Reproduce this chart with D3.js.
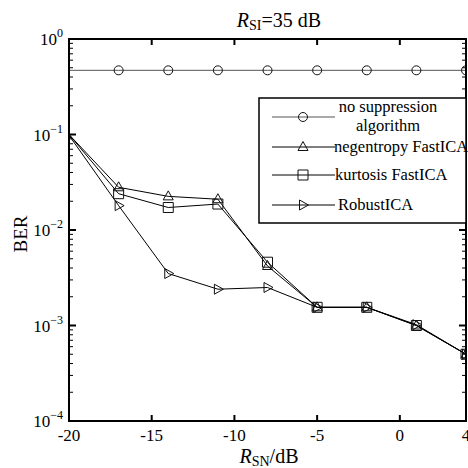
<!DOCTYPE html>
<html>
<head>
<meta charset="utf-8">
<script src="https://cdn.jsdelivr.net/npm/d3@7"></script>
<style>
  body { margin: 0; background: #fff; }
  svg { display: block; font-family: "Liberation Serif", "Times New Roman", serif; }
</style>
</head>
<body>
<svg id="chart"></svg>
<script>
// data
const snr = [-20, -17, -14, -11, -8, -5, -2, 1, 4];
const noSuppression = [0.47, 0.47, 0.47, 0.47, 0.47, 0.47, 0.47, 0.47, 0.47];
const negentropyFastICA = [0.1, 0.028, 0.0225, 0.021, 0.0042, 0.00155, 0.00155, 0.001, 0.0005];
const kurtosisFastICA = [0.1, 0.024, 0.0172, 0.0187, 0.0046, 0.00155, 0.00155, 0.001, 0.0005];
const robustICA = [0.098, 0.018, 0.0035, 0.0024, 0.0025, 0.00155, 0.00155, 0.00102, 0.0005];
const xTicks = [-20, -15, -10, -5, 0, 4];
const yTicks = [1, 0.1, 0.01, 0.001, 0.0001];
const yTickExp = ["0", "\u22121", "\u22122", "\u22123", "\u22124"];

const series = [
    { name: ["no suppression", "algorithm"], values: noSuppression, marker: "circle", color: "#555" },
    { name: ["negentropy FastICA"], values: negentropyFastICA, marker: "triangle", color: "#000" },
    { name: ["kurtosis FastICA"], values: kurtosisFastICA, marker: "square", color: "#000" },
    { name: ["RobustICA"], values: robustICA, marker: "right", color: "#000" }
];

const W = 468, H = 468;
const margin = { left: 69, right: 2, top: 39, bottom: 47 };

const svg = d3.select("#chart").attr("width", W).attr("height", H);

const x = d3.scaleLinear().domain([-20, 4]).range([margin.left, W - margin.right]);
const y = d3.scaleLog().domain([1e-4, 1]).range([H - margin.bottom, margin.top]);

svg.append("clipPath").attr("id", "plotClip")
    .append("rect")
    .attr("x", margin.left).attr("y", margin.top)
    .attr("width", x.range()[1] - margin.left)
    .attr("height", y.range()[0] - margin.top);

// minor ticks for log axis
const minorTicks = [];
for (let e = -4; e < 0; e++) {
    for (let m = 2; m <= 9; m++) minorTicks.push(m * Math.pow(10, e));
}

const axes = svg.append("g");
const x0 = x.range()[0], x1 = x.range()[1];
const y0 = y.range()[0], y1 = y.range()[1];

// x ticks, inward on top and bottom
xTicks.forEach(t => {
    axes.append("line").attr("x1", x(t)).attr("x2", x(t)).attr("y1", y0).attr("y2", y0 - 6)
        .attr("stroke", "#000").attr("stroke-width", 2);
    axes.append("line").attr("x1", x(t)).attr("x2", x(t)).attr("y1", y1).attr("y2", y1 + 6)
        .attr("stroke", "#000").attr("stroke-width", 2);
    axes.append("text").attr("x", x(t)).attr("y", y0 + 20)
        .attr("text-anchor", "middle").attr("font-size", 17)
        .text(t);
});

// y ticks
yTicks.forEach((t, i) => {
    axes.append("line").attr("x1", x0).attr("x2", x0 + 7).attr("y1", y(t)).attr("y2", y(t))
        .attr("stroke", "#000").attr("stroke-width", 2);
    axes.append("line").attr("x1", x1).attr("x2", x1 - 7).attr("y1", y(t)).attr("y2", y(t))
        .attr("stroke", "#000").attr("stroke-width", 2);
    const lab = axes.append("text").attr("x", x0 - 6).attr("y", y(t) + 6)
        .attr("text-anchor", "end").attr("font-size", 17);
    lab.append("tspan").text("10");
    lab.append("tspan").attr("dy", -8).attr("font-size", 12).text(yTickExp[i]);
});
minorTicks.forEach(t => {
    axes.append("line").attr("x1", x0).attr("x2", x0 + 4).attr("y1", y(t)).attr("y2", y(t))
        .attr("stroke", "#000").attr("stroke-width", 1);
    axes.append("line").attr("x1", x1).attr("x2", x1 - 4).attr("y1", y(t)).attr("y2", y(t))
        .attr("stroke", "#000").attr("stroke-width", 1);
});

function markerPath(type, cx, cy) {
    const p = d3.path();
    if (type === "circle") {
        p.moveTo(cx + 4.5, cy);
        p.arc(cx, cy, 4.5, 0, 2 * Math.PI);
    } else if (type === "triangle") {
        p.moveTo(cx, cy - 5.5); p.lineTo(cx + 5, cy + 3.5); p.lineTo(cx - 5, cy + 3.5); p.closePath();
    } else if (type === "square") {
        p.rect(cx - 5, cy - 5, 10, 10);
    } else if (type === "right") {
        p.moveTo(cx + 5.5, cy); p.lineTo(cx - 3.5, cy - 5); p.lineTo(cx - 3.5, cy + 5); p.closePath();
    }
    return p.toString();
}

const plot = svg.append("g").attr("clip-path", "url(#plotClip)");
const line = d3.line().x((d, i) => x(snr[i])).y(d => y(d));

series.forEach(s => {
    plot.append("path").attr("d", line(s.values))
        .attr("fill", "none").attr("stroke", s.color).attr("stroke-width", 1);
    // markers start at the second point
    s.values.forEach((v, i) => {
        if (i === 0) return;
        plot.append("path").attr("d", markerPath(s.marker, x(snr[i]), y(v)))
            .attr("fill", "none").attr("stroke", "#111").attr("stroke-width", 1);
    });
});

// frame
svg.append("rect").attr("x", x0).attr("y", y1).attr("width", x1 - x0).attr("height", y0 - y1)
    .attr("fill", "none").attr("stroke", "#000").attr("stroke-width", 2);

// legend
const leg = svg.append("g");
leg.append("rect").attr("x", 259).attr("y", 98).attr("width", 207).attr("height", 125)
    .attr("fill", "#fff").attr("stroke", "#000").attr("stroke-width", 1.5);
const legRows = [117, 147, 175, 205];
const legText = [[[388, 112, "middle"], [388, 131, "middle"]], [[334, 152, "start"]], [[335, 180, "start"]], [[338, 210, "start"]]];
series.forEach((s, i) => {
    const ly = legRows[i];
    leg.append("line").attr("x1", 272).attr("x2", 335).attr("y1", ly).attr("y2", ly)
        .attr("stroke", s.color).attr("stroke-width", 1);
    leg.append("path").attr("d", markerPath(s.marker, 303, ly))
        .attr("fill", "none").attr("stroke", "#111").attr("stroke-width", 1);
    s.name.forEach((n, j) => {
        const [tx, ty, anchor] = legText[i][j];
        leg.append("text").attr("x", tx).attr("y", ty).attr("text-anchor", anchor)
            .attr("font-size", 16.5).text(n);
    });
});

// title
const title = svg.append("text").attr("x", 279).attr("y", 27).attr("text-anchor", "middle").attr("font-size", 20);
title.append("tspan").attr("font-style", "italic").text("R");
title.append("tspan").attr("font-size", 14).attr("dy", 3).text("SI");
title.append("tspan").attr("dy", -3).text("=35 dB");

// x label
const xl = svg.append("text").attr("x", 269).attr("y", 463).attr("text-anchor", "middle").attr("font-size", 20);
xl.append("tspan").attr("font-style", "italic").text("R");
xl.append("tspan").attr("font-size", 14).attr("dy", 3).text("SN");
xl.append("tspan").attr("dy", -3).text("/dB");

// y label
svg.append("text").attr("transform", "translate(27,234) rotate(-90)")
    .attr("text-anchor", "middle").attr("font-size", 19).text("BER");
</script>
</body>
</html>
